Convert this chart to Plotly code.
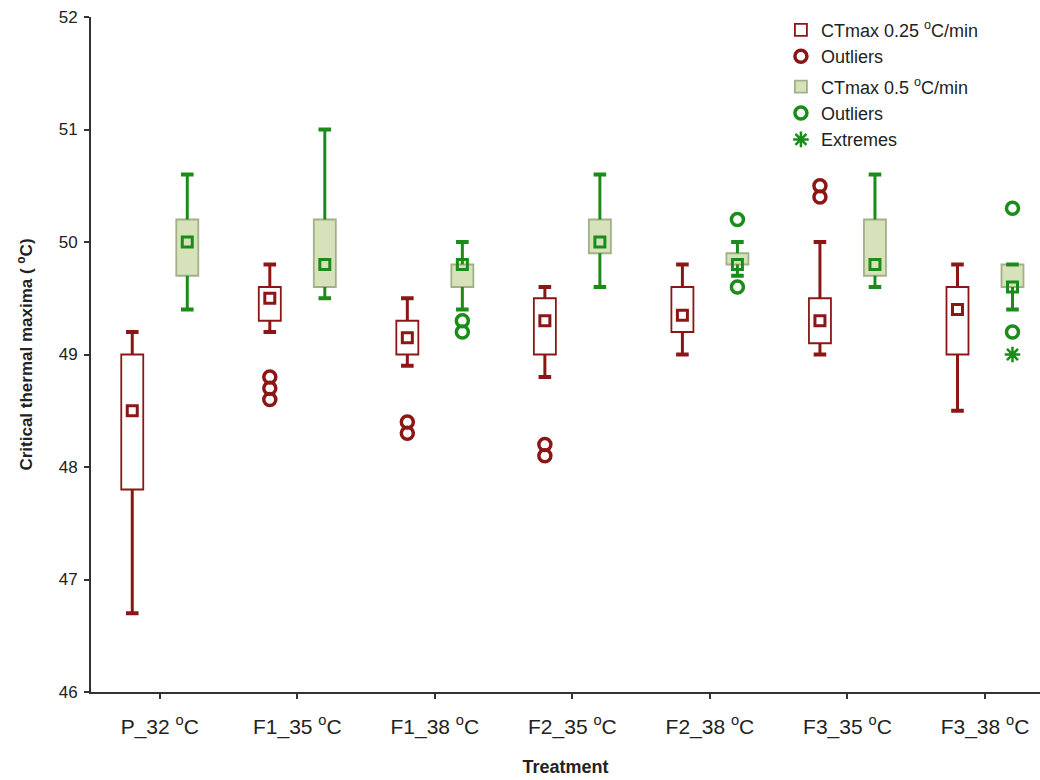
import plotly.graph_objects as go

categories = ["P_32 <sup>o</sup>C", "F1_35 <sup>o</sup>C", "F1_38 <sup>o</sup>C", "F2_35 <sup>o</sup>C",
              "F2_38 <sup>o</sup>C", "F3_35 <sup>o</sup>C", "F3_38 <sup>o</sup>C"]

# CTmax 0.25 °C/min
slow_min = [46.7, 49.2, 48.9, 48.8, 49.0, 49.0, 48.5]
slow_q1 = [47.8, 49.3, 49.0, 49.0, 49.2, 49.1, 49.0]
slow_med = [48.5, 49.5, 49.15, 49.3, 49.35, 49.3, 49.4]
slow_q3 = [49.0, 49.6, 49.3, 49.5, 49.6, 49.5, 49.6]
slow_max = [49.2, 49.8, 49.5, 49.6, 49.8, 50.0, 49.8]
slow_outliers = [[], [48.8, 48.7, 48.6], [48.4, 48.3], [48.2, 48.1], [], [50.5, 50.4], []]

# CTmax 0.5 °C/min
fast_min = [49.4, 49.5, 49.4, 49.6, 49.7, 49.6, 49.4]
fast_q1 = [49.7, 49.6, 49.6, 49.9, 49.8, 49.7, 49.6]
fast_med = [50.0, 49.8, 49.8, 50.0, 49.8, 49.8, 49.6]
fast_q3 = [50.2, 50.2, 49.8, 50.2, 49.9, 50.2, 49.8]
fast_max = [50.6, 51.0, 50.0, 50.6, 50.0, 50.6, 49.8]
fast_outliers = [[], [], [49.3, 49.2], [], [50.2, 49.6], [], [50.3, 49.2]]
fast_extremes = [[], [], [], [], [], [], [49.0]]

RED = "#8c1616"
GREEN = "#1a8c1a"
GREEN_FILL = "#d7e2bb"
GREEN_EDGE = "#a2b088"
OFFSET = 0.2
BOXW = 0.16

fig = go.Figure()


def add_series(offset, mins, q1, med, q3, maxs, outliers, color, fill, edge, name, group, extremes=None):
    xs = [i + offset for i in range(len(categories))]
    fig.add_trace(go.Bar(
        x=xs, base=q1, y=[b - a for a, b in zip(q1, q3)], width=BOXW,
        marker=dict(color=fill, line=dict(color=edge, width=1.8)),
        name=name, legendgroup=group, showlegend=True, hoverinfo="skip"))
    wx, wy = [], []
    for x, lo, a, b, hi in zip(xs, mins, q1, q3, maxs):
        wx += [x, x, None, x, x, None]
        wy += [b, hi, None, a, lo, None]
    fig.add_trace(go.Scatter(x=wx, y=wy, mode="lines", line=dict(color=color, width=3),
                             showlegend=False, hoverinfo="skip"))
    fig.add_trace(go.Scatter(x=xs + xs, y=list(mins) + list(maxs), mode="markers",
                             marker=dict(symbol="line-ew-open", size=9, color=color,
                                         line=dict(color=color, width=4)),
                             showlegend=False, hoverinfo="skip"))
    fig.add_trace(go.Scatter(x=xs, y=med, mode="markers",
                             marker=dict(symbol="square-open", size=10, color=color, line=dict(color=color, width=3)),
                             showlegend=False))
    ox, oy = [], []
    for x, vals in zip(xs, outliers):
        for v in vals:
            ox.append(x)
            oy.append(v)
    fig.add_trace(go.Scatter(x=ox, y=oy, mode="markers", name="Outliers", legendgroup=group,
                             marker=dict(symbol="circle-open", size=12, color=color, line=dict(color=color, width=3.5))))
    if extremes is not None:
        ex, ey = [], []
        for x, vals in zip(xs, extremes):
            for v in vals:
                ex.append(x)
                ey.append(v)
        fig.add_trace(go.Scatter(x=ex, y=ey, mode="markers", name="Extremes", legendgroup=group,
                                 marker=dict(symbol="asterisk-open", size=13, color=color,
                                             line=dict(color=color, width=2.5))))


add_series(-OFFSET, slow_min, slow_q1, slow_med, slow_q3, slow_max, slow_outliers,
           RED, "white", RED, "CTmax 0.25 <sup>o</sup>C/min", "a")
add_series(OFFSET, fast_min, fast_q1, fast_med, fast_q3, fast_max, fast_outliers,
           GREEN, GREEN_FILL, GREEN_EDGE, "CTmax 0.5 <sup>o</sup>C/min", "b", fast_extremes)

fig.update_layout(
    width=1040, height=780,
    margin=dict(l=91, r=0, t=17, b=88, autoexpand=False),
    plot_bgcolor="white", paper_bgcolor="white",
    barmode="overlay",
    font=dict(family="Liberation Sans, Arial, sans-serif", color="#222"),
    legend=dict(x=0.727, y=1.008, xanchor="left", yanchor="top", traceorder="grouped",
                tracegroupgap=4, font=dict(size=18, color="#222"), bgcolor="rgba(0,0,0,0)",
                itemsizing="trace"),
    xaxis=dict(range=[-0.5, 6.4], tickvals=list(range(len(categories))), ticktext=categories,
               showline=True, linecolor="#333", linewidth=1.8, ticks="outside", ticklen=5,
               tickwidth=1.5, tickcolor="#333", showgrid=False, zeroline=False, automargin=False,
               tickfont=dict(size=21), ticklabelstandoff=10,
               title=dict(text="<b>Treatment</b>", font=dict(size=18), standoff=22)),
    yaxis=dict(range=[46, 52], dtick=1, showline=True, linecolor="#333", linewidth=1.8,
               ticks="outside", ticklen=5, tickwidth=1.5, tickcolor="#333", showgrid=False,
               zeroline=False, automargin=False, tickfont=dict(size=17), ticklabelstandoff=3,
               title=dict(text="<b>Critical thermal maxima ( <sup>o</sup>C)</b>", font=dict(size=17), standoff=22)),
)

fig.write_html("out.html", config={"displayModeBar": False},
               post_script="document.body.style.margin='0px';")
